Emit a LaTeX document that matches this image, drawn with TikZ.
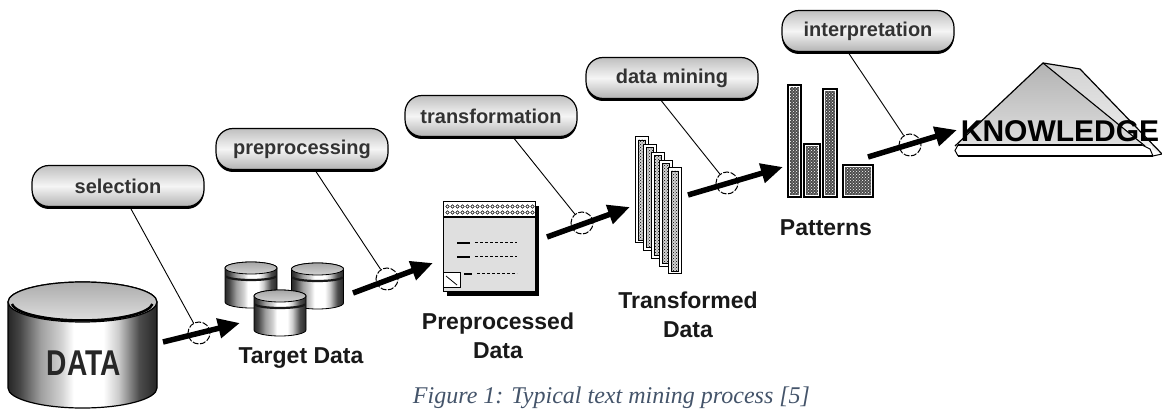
\documentclass[tikz,border=0pt]{standalone}
\usepackage{fontspec}
\setmainfont{Liberation Sans}
\newfontfamily\capserif{Liberation Serif}
\usetikzlibrary{arrows.meta,shadows,patterns}

% brushed-metal look for the cylinder bodies (path spans 25bp..75bp)
\pgfdeclarehorizontalshading{metal}{100bp}{color(0bp)=(black!85); color(25bp)=(black!85); color(29bp)=(gray!55!black); color(36bp)=(gray!75); color(43bp)=(gray!35); color(47bp)=(white); color(57bp)=(white); color(62bp)=(gray!40); color(69bp)=(gray!60!black); color(75bp)=(black!85); color(100bp)=(black!85)}

\definecolor{captioncol}{RGB}{68,84,106}

\tikzset{
  stagebubble/.style={draw=black, line width=1.2pt, rounded corners=17pt,
    minimum width=172pt, minimum height=41pt, inner sep=0pt,
    top color=gray!50, bottom color=gray!60, middle color=gray!8,
    drop shadow={shadow xshift=0pt, shadow yshift=-2.5pt, fill=black, opacity=1},
    font=\fontsize{20}{22}\selectfont\bfseries, text=black!80},
  stagearrow/.style={line width=5.5pt, -{Triangle[length=22pt,width=19pt]}},
  ring/.style={circle, draw=black, line width=1pt, minimum size=22pt,
    inner sep=0pt, dash pattern=on 6pt off 1.5pt},
  leader/.style={line width=0.9pt},
  objlabel/.style={font=\fontsize{23}{28.5}\selectfont\bfseries, align=center,
    inner sep=0pt, text=black!90},
  minicyl/.pic={
    \shadedraw[shading=metal, line width=0.8pt] (-26,0) -- (-26,-34)
      arc[start angle=180, end angle=360, x radius=26pt, y radius=6pt]
      -- (26,0) arc[start angle=0, end angle=180, x radius=26pt, y radius=6pt] -- cycle;
    \shadedraw[top color=gray!70, bottom color=gray!35, line width=0.8pt]
      (0,0) ellipse[x radius=26pt, y radius=6pt];
    \draw[line width=2.2pt, black!90] (-25,-8)
      arc[start angle=180, end angle=360, x radius=25pt, y radius=4pt];
  }
}

\begin{document}
\begin{tikzpicture}[x=1pt,y=1pt]
\clip (0,0) rectangle (1162,410);
\fill[white] (0,0) rectangle (1162,410);

% ---- DATA cylinder
\shadedraw[shading=metal, line width=1.2pt] (8,108) -- (8,22)
  arc[start angle=180, end angle=360, x radius=74.5pt, y radius=20pt]
  -- (157,108) arc[start angle=0, end angle=180, x radius=74.5pt, y radius=20pt] -- cycle;
\shadedraw[top color=gray!65, bottom color=gray!25, line width=1.2pt]
  (82.5,108) ellipse[x radius=74.5pt, y radius=20pt];
\draw[line width=2.5pt] (12,106) arc[start angle=185, end angle=355, x radius=70.5pt, y radius=18pt];
\node[font=\fontsize{32}{32}\selectfont\bfseries, xscale=0.88, yscale=1.12, text=black!85]
  (data) at (84,47) {DATA};

% ---- target data: three small cylinders
\pic at (251,142) {minicyl};
\pic at (317.5,141) {minicyl};
\pic at (280,114) {minicyl};
\node[objlabel] (tgtlbl) at (301,52) {Target Data};

% ---- preprocessed data: a form with a shadow
\fill[black] (447,114) rectangle (539,204);
\draw[fill=gray!25, line width=1pt] (443,118) rectangle (535,208);
\draw[fill=white, line width=1pt] (443,193) rectangle (535,208);
\foreach \i in {0,...,17}{
  \foreach \j in {0,1}{
    \draw[line width=0.6pt] (447.5+5*\i,197.5+6*\j) circle[radius=1.8pt];
  }
}
\draw[line width=1.4pt] (443,193) -- (535,193);
\foreach \y in {167,153}{
  \draw[line width=1.3pt] (457,\y) -- (470,\y);
  \draw[line width=1pt, dash pattern=on 3pt off 2pt] (475,\y) -- (517,\y);
}
\draw[line width=1.3pt] (464,136) -- (472,136);
\draw[line width=1pt, dash pattern=on 3pt off 2pt] (477,136) -- (517,136);
\draw[fill=white, line width=1pt] (443,122) rectangle (460,137);
\draw[line width=0.8pt] (446,134) -- (457,125);
\node[objlabel] (prelbl) at (498,74) {Preprocessed\\Data};

% ---- transformed data: staggered strips
\foreach \i in {0,...,4}{
  \pgfmathsetmacro\sx{635+8.25*\i}
  \pgfmathsetmacro\st{410-137-7.75*\i}
  \draw[fill=white, line width=1pt] (\sx,\st) rectangle ++(13,-106);
  \fill[gray!35] (\sx+3,\st-3) rectangle ++(7,-100);
  \fill[pattern=crosshatch dots, pattern color=black] (\sx+3,\st-3) rectangle ++(7,-100);
  \draw[line width=0.7pt] (\sx+3,\st-3) rectangle ++(7,-100);
}
\node[objlabel] (trlbl) at (688,95) {Transformed\\Data};

% ---- patterns: bar chart
\foreach \xa/\xb/\yt in {788/801/325, 804/820/266, 823/837/321, 843/873/245}{
  \draw[fill=white, line width=1.4pt] (\xa,213) rectangle (\xb,\yt);
  \fill[black!70] (\xa+2,215) rectangle (\xb-2,\yt-2);
  \fill[pattern=crosshatch dots, pattern color=white] (\xa+2,215) rectangle (\xb-2,\yt-2);
}
\node[objlabel] (patlbl) at (826,182) {Patterns};

% ---- knowledge: mountain on a slab
\shade[top color=gray!35, bottom color=gray!12]
  (1043,347) -- (1062,344) -- (1080,341) -- (1162,256) -- (1145,264) -- cycle;
\shade[top color=gray!60, bottom color=gray!25]
  (955,264) -- (1043,347) -- (1145,264) -- cycle;
\draw[line width=1.2pt] (955,264) -- (1043,347) -- (1062,344) -- (1080,341) -- (1162,256);
\draw[line width=1.1pt] (1043,347) -- (1145,264);
\fill[white] (958,264) rectangle (1152,254);
\draw[line width=2.6pt] (958,265) -- (1142,265);
\draw[line width=2pt] (958,254) -- (1153,254);
\draw[line width=1pt] (958,265) -- (955,259.5) -- (958,254);
\draw[line width=1pt] (1142,265) -- (1150,261) -- (1153,254) -- (1162,256);
\node[font=\fontsize{30}{30}\selectfont\bfseries, inner sep=0pt] (know) at (1060,279) {KNOWLEDGE};

% ---- stage labels
\node[stagebubble] (sel) at (118,224) {selection};
\node[stagebubble] (pre) at (302,261) {preprocessing};
\node[stagebubble] (trf) at (491,294) {transformation};
\node[stagebubble] (dmn) at (672,332) {data mining};
\node[stagebubble] (itp) at (868,379) {interpretation};

% ---- flow arrows with their rings
\coordinate (a1s) at (163,68);  \coordinate (a1e) at (240,87);
\coordinate (a2s) at (353,117); \coordinate (a2e) at (433,147);
\coordinate (a3s) at (547,173); \coordinate (a3e) at (630,203);
\coordinate (a4s) at (688,215); \coordinate (a4e) at (783,243);
\coordinate (a5s) at (868,253); \coordinate (a5e) at (957,280);
\foreach \k in {1,...,5}{ \draw[stagearrow] (a\k s) -- (a\k e); }

\node[ring] (r1) at (199,77) {};
\node[ring] (r2) at (387,131) {};
\node[ring] (r3) at (582,187) {};
\node[ring] (r4) at (727,227) {};
\node[ring] (r5) at (910,265) {};

\draw[leader] ([xshift=12pt]sel.south) -- (r1);
\draw[leader] ([xshift=13pt]pre.south) -- (r2);
\draw[leader] ([xshift=22pt]trf.south) -- (r3);
\draw[leader] ([xshift=-12pt]dmn.south) -- (r4);
\draw[leader] ([xshift=-20pt]itp.south) -- (r5);

% ---- caption
\node[font=\capserif\itshape\fontsize{24}{25}\selectfont, text=captioncol, anchor=base, inner sep=0pt]
  (cap) at (611.5,6.5) {Figure 1: Typical text mining process [5]};
\end{tikzpicture}
\end{document}
